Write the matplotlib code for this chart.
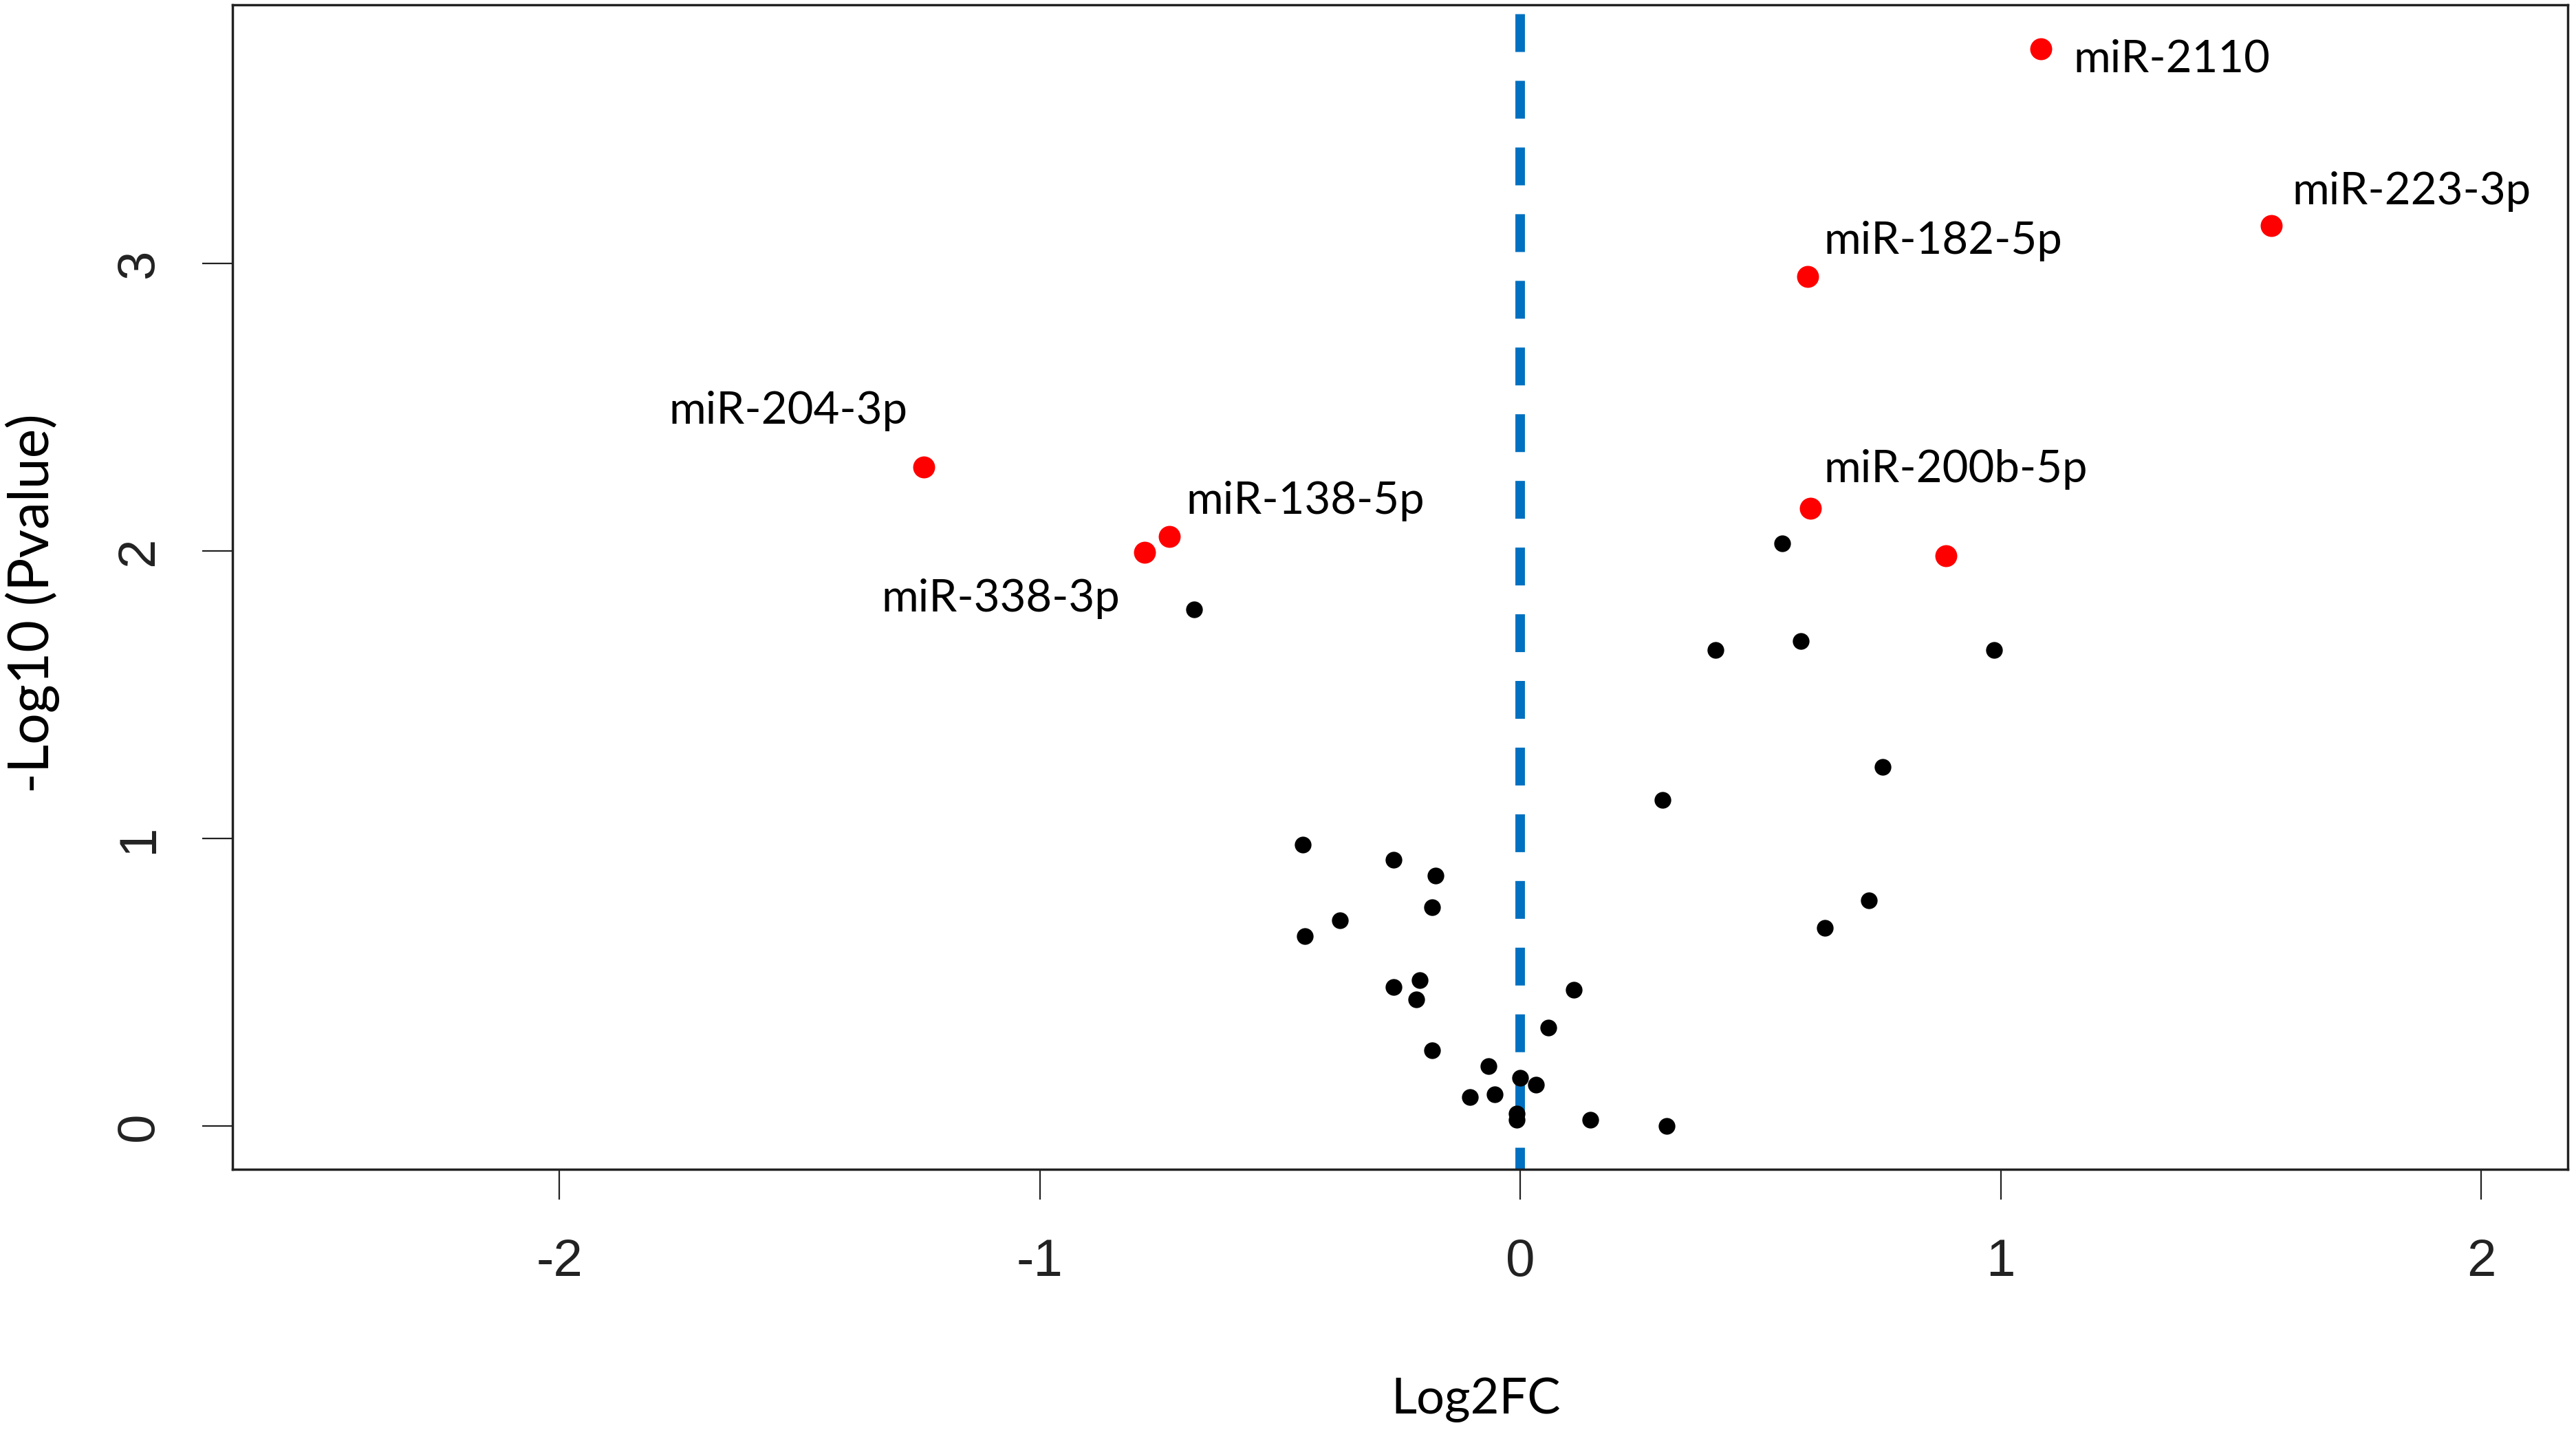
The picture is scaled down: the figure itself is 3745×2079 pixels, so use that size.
import matplotlib
matplotlib.use('Agg')
import matplotlib.pyplot as plt
from matplotlib import font_manager

# miRNAs passing the cut-off (red, mostly labelled)
sig_names = ['miR-2110', 'miR-223-3p', 'miR-182-5p', 'miR-200b-5p', '',
             'miR-204-3p', 'miR-138-5p', 'miR-338-3p']
sig_log2fc = [1.083, 1.563, 0.598, 0.604, 0.886, -1.242, -0.730, -0.782]
sig_logp = [3.747, 3.132, 2.955, 2.149, 1.985, 2.292, 2.052, 1.997]

# remaining miRNAs (black)
ns_log2fc = [0.545, 0.406, 0.584, 0.986, -0.679, 0.754, 0.296, -0.453,
             -0.264, -0.177, -0.184, 0.726, -0.375, -0.448, 0.634, -0.210,
             -0.264, -0.217, 0.112, 0.058, -0.184, -0.066, 0.000, 0.033,
             -0.105, -0.053, -0.007, -0.007, 0.145, 0.304]
ns_logp = [2.027, 1.655, 1.688, 1.655, 1.798, 1.250, 1.135, 0.980,
           0.926, 0.872, 0.761, 0.786, 0.717, 0.661, 0.689, 0.509,
           0.485, 0.440, 0.475, 0.343, 0.265, 0.210, 0.169, 0.145,
           0.100, 0.111, 0.044, 0.022, 0.022, 0.001]

xticks = [-2, -1, 0, 1, 2]
yticks = [0, 1, 2, 3]

# label placement (offset in points from the point, horizontal alignment)
label_offsets = [(34, -11, 'left'), (22, 36, 'left'), (17, 37, 'left'), (14, 41, 'left'),
                 (0, 0, 'left'), (-17, 59, 'right'), (17, 37, 'left'), (-26, -49, 'right')]

names = {f.name for f in font_manager.fontManager.ttflist}
tick_font = 'Liberation Sans Narrow' if 'Liberation Sans Narrow' in names else 'Liberation Sans'
label_font = 'Lato' if 'Lato' in names else 'DejaVu Sans'

plt.rcParams['lines.scale_dashes'] = False

fig = plt.figure(figsize=(37.45, 20.79), dpi=100, facecolor='white')
ax = fig.add_axes([0.0903, 0.1823, 0.9065, 0.8143])

ax.plot([0, 0], [-0.15, 3.9], color='#0070C0', lw=10,
        linestyle=(17, (39.6, 30.2)), zorder=1)

ax.scatter(ns_log2fc, ns_logp, s=17.5 ** 2, color='black', linewidths=0, zorder=3)
ax.scatter(sig_log2fc, sig_logp, s=23 ** 2, color='#FF0000', linewidths=0, zorder=3)

for name, x, y, (dx, dy, ha) in zip(sig_names, sig_log2fc, sig_logp, label_offsets):
    if not name:
        continue
    ax.annotate(name, (x, y), xytext=(dx, dy), textcoords='offset points',
                ha=ha, va='center', fontsize=47, family=label_font, color='black')

ax.set_xlim(-2.68, 2.18)
ax.set_ylim(-0.15, 3.9)
ax.set_xticks(xticks)
ax.set_yticks(yticks)
ax.set_xticklabels([str(t) for t in xticks])
ax.set_yticklabels([str(t) for t in yticks])

for sp in ax.spines.values():
    sp.set_linewidth(2.5)
    sp.set_color('#222222')

ax.tick_params(axis='both', direction='out', length=32, width=1.6, color='#222222',
               labelsize=55, pad=40)
ax.tick_params(axis='y', labelrotation=90)
for lbl in ax.get_xticklabels() + ax.get_yticklabels():
    lbl.set_family(tick_font)
    lbl.set_color('#222222')
for lbl in ax.get_yticklabels():
    lbl.set_va('center')

fig.text(0.5728, 0.0115, 'Log2FC', ha='center', va='baseline', fontsize=52, family=label_font)
fig.text(0.0126, 0.578, '-Log10 (Pvalue)', ha='center', va='center', rotation=90,
         fontsize=58, family=label_font)

fig.savefig('out.png', dpi=100, facecolor='white')
